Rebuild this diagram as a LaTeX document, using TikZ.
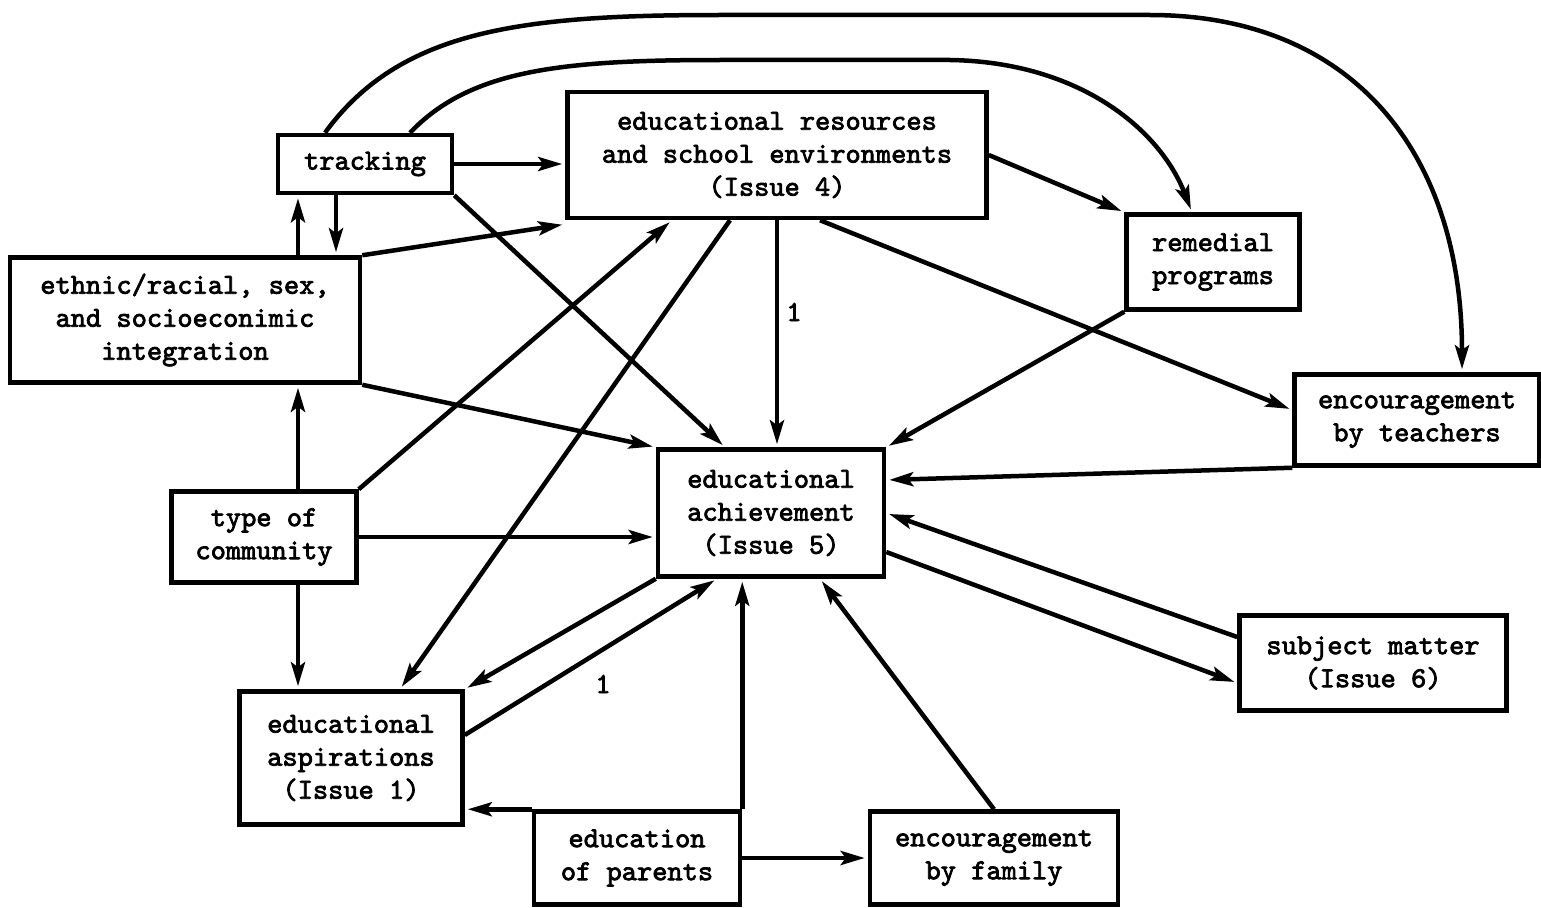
\documentclass[tikz,border=0pt]{standalone}
\usepackage{fontspec}
\usetikzlibrary{arrows.meta}
\newfontfamily\typewr{lmmono10-regular.otf}[FakeBold=2.6]
\begin{document}
\begin{tikzpicture}[x=1pt, y=-1pt,
    every node/.style={font=\typewr\fontsize{29}{33}\selectfont},
    box/.style={draw=black, line width=4.5pt, align=center, inner sep=0pt},
    arr/.style={-{Stealth[length=24pt,width=14pt,inset=5pt]}, line width=4.5pt, black, shorten >=3pt}]
    \useasboundingbox (0,0) rectangle (1541,907);

    \node[box, minimum width=174pt, minimum height=58pt] (track) at (365,164) {tracking};
    \node[box, minimum width=419pt, minimum height=126pt] (res) at (777,155)
        {educational resources\\and school environments\\(Issue 4)};
    \node[box, minimum width=173pt, minimum height=95pt] (remed) at (1213,262) {remedial\\programs};
    \node[box, minimum width=350pt, minimum height=125pt] (ethnic) at (185,320)
        {ethnic/racial, sex,\\and socioeconimic\\integration};
    \node[box, minimum width=245pt, minimum height=91pt] (teach) at (1417,420) {encouragement\\by teachers};
    \node[box, minimum width=226pt, minimum height=127pt] (ach) at (771,513)
        {educational\\achievement\\(Issue 5)};
    \node[box, minimum width=185pt, minimum height=91pt] (comm) at (264,537) {type of\\community};
    \node[box, minimum width=267pt, minimum height=95pt] (subj) at (1373,663) {subject matter\\(Issue 6)};
    \node[box, minimum width=223pt, minimum height=133pt] (asp) at (351,758)
        {educational\\aspirations\\(Issue 1)};
    \node[box, minimum width=206pt, minimum height=93pt] (par) at (637,858) {education\\of parents};
    \node[box, minimum width=248pt, minimum height=93pt] (fam) at (994,858) {encouragement\\by family};

    \node (one4) at (794,312) {1};
    \node (one1) at (603,684) {1};

    % tracking
    \draw[arr] (track.east) -- (track.east -| res.west);
    \draw[arr] (track.south east) -- ([xshift=-46pt]ach.north);
    \draw[arr] ([xshift=-40pt]track.north)
        .. controls (400,30) and (520,15) .. (720,15) -- (1150,15)
        .. controls (1350,15) and ([xshift=45pt]teach.north |- 0,150) .. ([xshift=45pt]teach.north);
    \draw[arr] ([xshift=45pt]track.north)
        .. controls (470,70) and (560,60) .. (720,60) -- (950,60)
        .. controls (1080,62) and (1160,130) .. ([xshift=-21pt]remed.north);
    \draw[arr] ([xshift=-29pt]track.south) -- ([xshift=-29pt]track.south |- ethnic.north);

    % ethnic
    \draw[arr] ([xshift=-67pt]track.south |- ethnic.north) -- ([xshift=-67pt]track.south);
    \draw[arr] (ethnic.north east) -- ([yshift=-4pt]res.south west);
    \draw[arr] (ethnic.south east) -- (ach.north west);

    % community
    \draw[arr] ([xshift=34pt]comm.north) -- ([xshift=34pt]comm.north |- ethnic.south);
    \draw[arr] ([xshift=34pt]comm.south) -- ([xshift=34pt]comm.south |- asp.north);
    \draw[arr] (comm.east) -- (comm.east -| ach.west);
    \draw[arr] (comm.north east) -- ([xshift=-105pt]res.south);

    % resources
    \draw[arr] ([xshift=-47pt]res.south) -- ([xshift=49pt]asp.north);
    \draw[arr] (res.south) -- (res.south |- ach.north);
    \draw[arr] (res.east) -- (remed.north west);
    \draw[arr] ([xshift=43pt]res.south) -- ([yshift=10pt]teach.west);

    % into achievement
    \draw[arr] (remed.south west) -- (ach.north east);
    \draw[arr] (teach.south west) -- ([yshift=33pt]ach.east);
    \draw[arr] ([yshift=26pt]subj.west) -- (ach.east);
    \draw[arr] ([yshift=-39pt]ach.east) -- ([yshift=-20pt]subj.west);
    \draw[arr] (ach.south west) -- (asp.north east);
    \draw[arr] ([yshift=23pt]asp.east) -- ([xshift=-54pt]ach.south);

    % parents and family
    \draw[arr] (par.north east) -- (par.north east |- ach.south);
    \draw[arr] (par.east) -- (fam.west);
    \draw[arr] (par.north west) -- (par.north west -| asp.east);
    \draw[arr] (fam.north) -- ([xshift=49pt]ach.south);
\end{tikzpicture}
\end{document}
